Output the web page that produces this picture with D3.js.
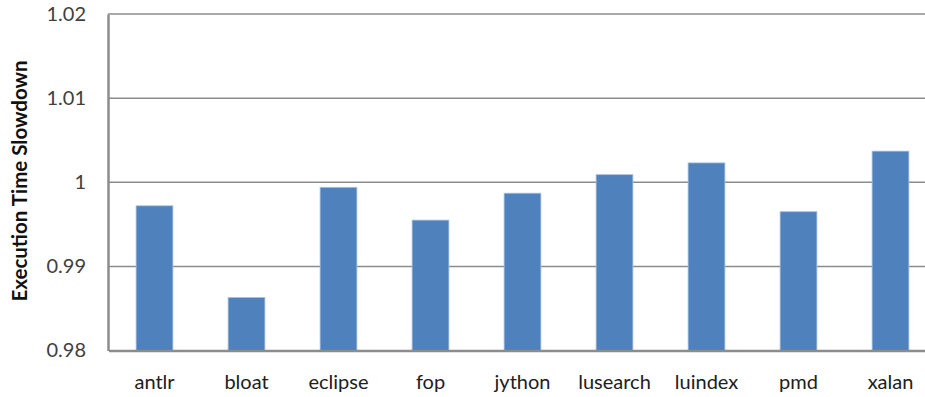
<!DOCTYPE html>
<html><head><meta charset="utf-8">
<script src="https://cdn.jsdelivr.net/npm/d3@7/dist/d3.min.js"></script>
<style>body{margin:0;background:#fff;} svg{display:block;}</style>
</head><body>
<svg id="c" width="925" height="397"></svg>
<script>
const categories = ["antlr","bloat","eclipse","fop","jython","lusearch","luindex","pmd","xalan"];
const values = [0.9972, 0.9863, 0.9994, 0.9955, 0.9987, 1.0009, 1.0023, 0.9965, 1.0037];
const yTicks = [0.98, 0.99, 1.00, 1.01, 1.02];
const yTitle = "Execution Time Slowdown";

const svg = d3.select("#c");
const font = "Lato, 'Open Sans', sans-serif";
const x = d3.scaleBand().domain(categories).range([108.5, 936.5]).paddingInner(0.6).paddingOuter(0.3);
const y = d3.scaleLinear().domain([0.98, 1.02]).range([350.5, 14]);

// gridlines
svg.append("g").selectAll("line").data(yTicks.slice(1)).join("line")
  .attr("x1", 108).attr("x2", 925)
  .attr("y1", d => y(d)).attr("y2", d => y(d))
  .attr("stroke", "#8c8c8c").attr("stroke-width", 1.5);

// bars
svg.append("g").selectAll("rect").data(values).join("rect")
  .attr("x", (d,i) => x(categories[i]))
  .attr("width", x.bandwidth())
  .attr("y", d => y(d))
  .attr("height", d => y(0.98) - y(d))
  .attr("fill", "#4f81bd")
  .attr("stroke", "#a9c0e0").attr("stroke-width", 0.8);

// axes
const yAxis = d3.axisLeft(y).tickValues(yTicks).tickSize(0).tickPadding(22)
  .tickFormat(d => String(+d.toFixed(2)));
const gy = svg.append("g").attr("transform", "translate(108,0)").call(yAxis);
gy.select(".domain").attr("stroke", "#8c8c8c").attr("stroke-width", 2.5);
gy.selectAll("text").attr("font-family", font).attr("font-size", 20).attr("fill", "#404040");

const xAxis = d3.axisBottom(x).tickSize(0).tickPadding(24);
const gx = svg.append("g").attr("transform", "translate(0,350.5)").call(xAxis);
gx.select(".domain").attr("stroke", "#8c8c8c").attr("stroke-width", 2.5);
gx.selectAll("text").attr("font-family", font).attr("font-size", 20).attr("fill", "#202020");

svg.append("text")
  .attr("transform", "translate(27,181) rotate(-90)")
  .attr("text-anchor", "middle")
  .attr("font-family", font).attr("font-size", 20.5).attr("font-weight", "bold")
  .attr("fill", "#111")
  .text(yTitle);
</script>
</body></html>
